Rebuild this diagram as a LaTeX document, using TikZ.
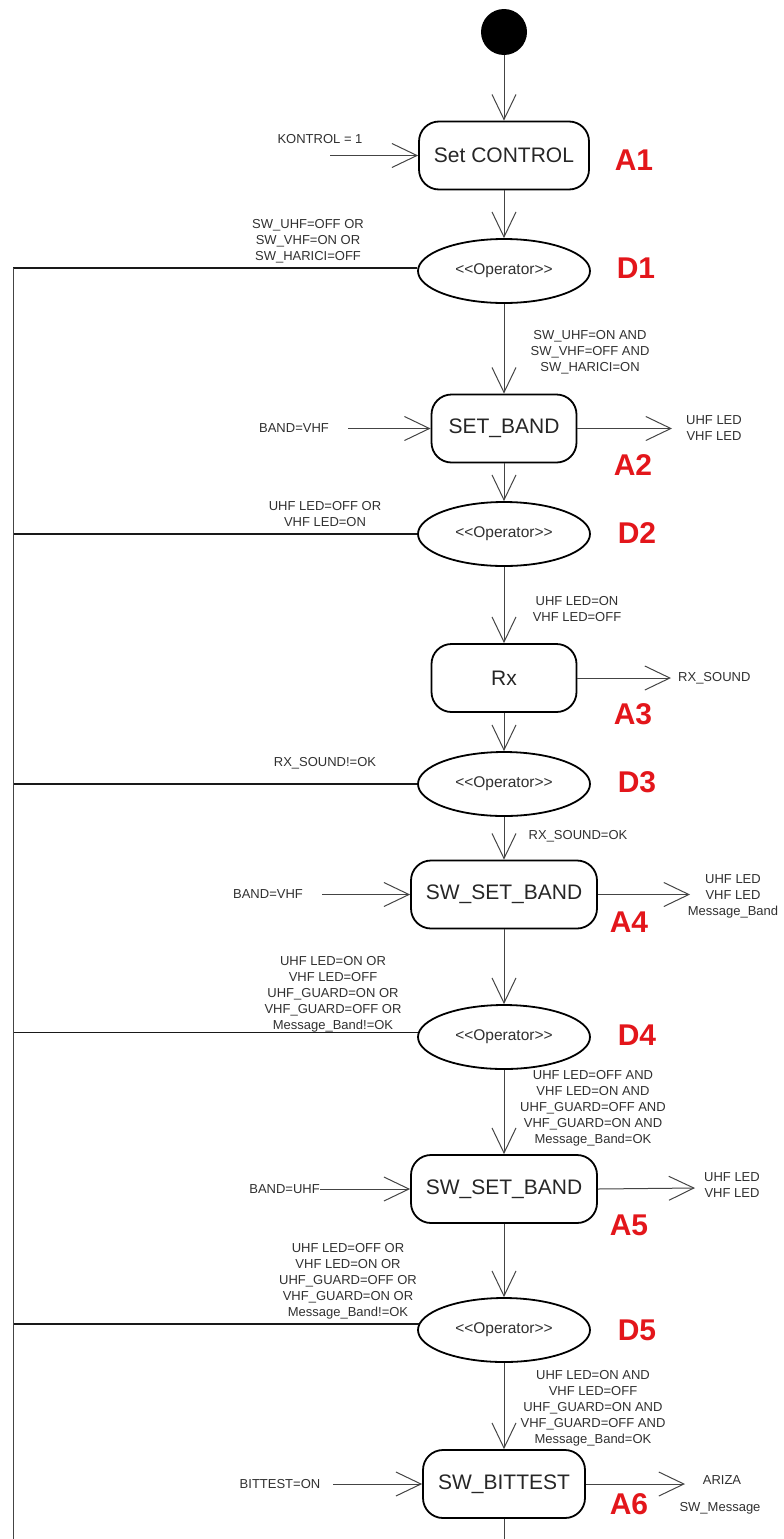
\documentclass[tikz,border=0pt]{standalone}
\usepackage{fontspec}
\setmainfont{Liberation Sans}
\usetikzlibrary{arrows.meta,shapes.geometric}
\definecolor{lbl}{HTML}{E3161B}
\definecolor{txt}{HTML}{303030}
\definecolor{ln}{HTML}{444444}
\newcommand{\opname}{{<}{<}Operator{>}{>}}
\begin{document}
\begin{tikzpicture}[x=1pt,y=-1pt,
 statebox/.style={draw=black,line width=1.8pt,rounded corners=20pt,minimum height=68pt,inner sep=0pt,font=\fontsize{21}{24}\selectfont,text=black!85},
 opnode/.style={ellipse,draw=black,line width=1.8pt,minimum width=172pt,minimum height=64pt,inner sep=0pt,font=\fontsize{15.5}{18}\selectfont,text=txt},
 cond/.style={align=center,inner sep=0pt,font=\fontsize{13}{16}\selectfont,text=txt},
 tag/.style={inner sep=0pt,font=\fontsize{30}{32}\selectfont\bfseries,text=lbl},
 flow/.style={draw=ln,line width=1pt,-{Straight Barb[length=25pt,width=24pt]}},
 plain/.style={draw=ln,line width=1pt},
 back/.style={draw=black!90,line width=1.6pt}]
\useasboundingbox (0,0) rectangle (784,1539);

% start
\node[circle,fill=black,minimum size=46pt,inner sep=0pt] (start) at (504,32) {};

% states
\node[statebox,minimum width=170pt] (A1) at (504,155.5) {Set CONTROL};
\node[opnode] (D1) at (504,271) {\opname};
\node[statebox,minimum width=145pt] (A2) at (504,428.5) {SET\_BAND};
\node[opnode] (D2) at (504,534) {\opname};
\node[statebox,minimum width=145pt] (A3) at (504,678) {Rx};
\node[opnode] (D3) at (504,784) {\opname};
\node[statebox,minimum width=186pt] (A4) at (504,894.5) {SW\_SET\_BAND};
\node[opnode] (D4) at (504,1037) {\opname};
\node[statebox,minimum width=186pt] (A5) at (504,1189) {SW\_SET\_BAND};
\node[opnode] (D5) at (504,1330) {\opname};
\node[statebox,minimum width=162pt] (A6) at (504,1484) {SW\_BITTEST};
\coordinate (bot) at (504,1539);

% red tags
\node[tag] (tA1) at (634,160) {A1};
\node[tag] (tD1) at (636,268) {D1};
\node[tag] (tA2) at (633,465) {A2};
\node[tag] (tD2) at (637,533) {D2};
\node[tag] (tA3) at (633,714) {A3};
\node[tag] (tD3) at (637,782) {D3};
\node[tag] (tA4) at (629,922) {A4};
\node[tag] (tD4) at (637,1035) {D4};
\node[tag] (tA5) at (629,1225) {A5};
\node[tag] (tD5) at (637,1330) {D5};
\node[tag] (tA6) at (629,1504) {A6};

% main flow
\draw[flow] (start) -- (A1.north);
\draw[flow] (A1.south) -- (D1.north);
\draw[flow] (D1.south) -- (A2.north);
\draw[flow] (A2.south) -- (D2.north);
\draw[flow] (D2.south) -- (A3.north);
\draw[flow] (A3.south) -- (D3.north);
\draw[flow] (D3.south) -- (A4.north);
\draw[flow] (A4.south) -- (D4.north);
\draw[flow] (D4.south) -- (A5.north);
\draw[flow] (A5.south) -- (D5.north);
\draw[flow] (D5.south) -- (A6.north);
\draw[plain] (A6.south) -- (bot);

% conditions along main flow
\node[cond] (c1) at (590,352) {SW\_UHF=ON AND\\SW\_VHF=OFF AND\\SW\_HARICI=ON};
\node[cond] (c2) at (577,609) {UHF LED=ON\\VHF LED=OFF};
\node[cond] (c3) at (578,836) {RX\_SOUND=OK};
\node[cond] (c4) at (593,1108) {UHF LED=OFF AND\\VHF LED=ON AND\\UHF\_GUARD=OFF AND\\VHF\_GUARD=ON AND\\Message\_Band=OK};
\node[cond] (c5) at (593,1408) {UHF LED=ON AND\\VHF LED=OFF\\UHF\_GUARD=ON AND\\VHF\_GUARD=OFF AND\\Message\_Band=OK};

% back lines to the left
\coordinate (L) at (13,0);
\coordinate (Lbot) at (13,1539);
\draw[back] (D1.178) -- (D1.178 -| L);
\draw[back] (D2.west) -- (D2.west -| L);
\draw[back] (D3.west) -- (D3.west -| L);
\draw[back] (D4.177) -- (D4.177 -| L);
\draw[back] (D5.176) -- (D5.176 -| L);
\draw[plain] (D1.178 -| L) -- (Lbot);

\node[cond] (b1) at (308,241) {SW\_UHF=OFF OR\\SW\_VHF=ON OR\\SW\_HARICI=OFF};
\node[cond] (b2) at (325,514.5) {UHF LED=OFF OR\\VHF LED=ON};
\node[cond] (b3) at (325,763) {RX\_SOUND!=OK};
\node[cond] (b4) at (333,994) {UHF LED=ON OR\\VHF LED=OFF\\UHF\_GUARD=ON OR\\VHF\_GUARD=OFF OR\\Message\_Band!=OK};
\node[cond] (b5) at (348,1281) {UHF LED=OFF OR\\VHF LED=ON OR\\UHF\_GUARD=OFF OR\\VHF\_GUARD=ON OR\\Message\_Band!=OK};

% inputs
\node[cond] (i1) at (320,139) {KONTROL = 1};
\coordinate (i1s) at (330,155.5);
\draw[flow] (i1s) -- (A1.west);
\node[cond] (i2) at (294,428.5) {BAND=VHF};
\coordinate (i2s) at (348,428.5);
\draw[flow] (i2s) -- (A2.west);
\node[cond] (i4) at (268,894.5) {BAND=VHF};
\coordinate (i4s) at (322,894.5);
\draw[flow] (i4s) -- (A4.west);
\node[cond,anchor=east] (i5) at (320,1189) {BAND=UHF};
\draw[flow] (i5.east) -- (A5.west);
\node[cond] (i6) at (280,1484) {BITTEST=ON};
\coordinate (i6s) at (333,1484);
\draw[flow] (i6s) -- (A6.west);

% outputs
\coordinate (o2) at (672,428.5);
\draw[flow] (A2.east) -- (o2);
\node[cond] (o2t) at (714,428) {UHF LED\\VHF LED};
\coordinate (o3) at (671,678);
\draw[flow] (A3.east) -- (o3);
\node[cond,anchor=west] (o3t) at (678,678) {RX\_SOUND};
\coordinate (o4) at (690,894.5);
\draw[flow] (A4.east) -- (o4);
\node[cond] (o4t) at (733,896) {UHF LED\\VHF LED\\Message\_Band};
\coordinate (o5) at (695,1188);
\draw[flow] (A5.east) -- (o5);
\node[cond] (o5t) at (732,1185) {UHF LED\\VHF LED};
\coordinate (o6) at (685,1484);
\draw[flow] (A6.east) -- (o6);
\node[cond] (o6t) at (722,1480) {ARIZA};
\node[cond] (o6u) at (720,1508) {SW\_Message};
\end{tikzpicture}
\end{document}
